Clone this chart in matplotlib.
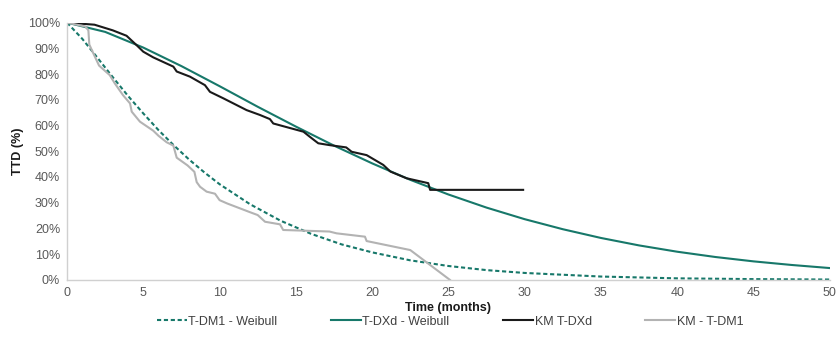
import matplotlib
matplotlib.use("Agg")
import matplotlib.pyplot as plt
from matplotlib.ticker import FuncFormatter

plt.rcParams['font.family'] = ['Liberation Sans', 'DejaVu Sans']

# Weibull fit T-DM1 (dashed)
t_dm1_wb = [0, 1, 2, 3, 4, 5, 6, 7, 8, 9, 10, 12, 14, 16, 18, 20, 22.5, 25, 27.5, 30, 35, 40, 45, 50]
s_dm1_wb = [100, 93.7, 86.3, 78.8, 71.5, 64.7, 58.2, 52.3, 46.8, 41.8, 37.2, 29.4, 23.0, 17.9,
            13.8, 10.7, 7.6, 5.4, 3.8, 2.7, 1.3, 0.6, 0.3, 0.14]

# Weibull fit T-DXd (solid)
t_dxd_wb = [0, 2.5, 5, 7.5, 10, 12.5, 15, 17.5, 20, 22.5, 25, 27.5, 30, 32.5, 35, 37.5, 40,
            42.5, 45, 47.5, 50]
s_dxd_wb = [100, 96.4, 90.3, 83.1, 75.3, 67.3, 59.6, 52.2, 45.3, 38.9, 33.2, 28.1, 23.6,
            19.7, 16.3, 13.4, 10.95, 8.9, 7.2, 5.8, 4.6]

# Kaplan-Meier T-DXd
t_km_dxd = [0, 1.8, 3.0, 3.9, 4.55, 5.0, 5.65, 6.97, 7.19, 8.06, 9.04, 9.37, 10.24, 11.77,
            12.65, 13.3, 13.52, 15.5, 15.9, 16.47, 17.2, 18.3, 18.66, 19.64, 20.73, 21.2,
            22.26, 23.68, 23.8, 29.9]
s_km_dxd = [100, 99.2, 97, 94.9, 91.3, 88.7, 86.5, 82.9, 81, 79, 75.7, 73.1, 70.6, 66,
            64.1, 62.5, 60.8, 57.6, 55.7, 53.1, 52.4, 51.5, 49.8, 48.5, 44.7, 42.1,
            39.5, 37.6, 35, 35]

# Kaplan-Meier T-DM1
t_km_dm1 = [0, 1.2, 1.4, 1.46, 1.65, 2.1, 2.8, 3.13, 3.67, 4.13, 4.24, 4.78, 5.65, 6.0, 6.53,
            6.97, 7.19, 7.9, 8.35, 8.5, 8.72, 9.15, 9.7, 10.0, 10.5, 11.34, 12.0, 12.5, 12.98,
            13.96, 14.17, 17.2, 17.67, 19.53, 19.64, 22.5, 25.1]
s_km_dm1 = [100, 98.5, 97, 91.5, 89, 83.3, 79.6, 76.4, 71.8, 68.6, 65.4, 61.5, 58, 56, 53.5,
            52.2, 47.5, 44.5, 42, 38, 36.2, 34.3, 33.5, 31, 29.7, 27.8, 26.3, 25.2, 22.6,
            21.6, 19.4, 18.8, 18.1, 16.8, 15.1, 11.6, 0]

x_ticks = [0, 5, 10, 15, 20, 25, 30, 35, 40, 45, 50]
y_ticks = [0, 10, 20, 30, 40, 50, 60, 70, 80, 90, 100]

teal = '#17786a'
fig = plt.figure(figsize=(8.4, 3.43), dpi=100)
ax = fig.add_axes([0.0798, 0.184, 0.908, 0.750])

ax.plot(t_dm1_wb, s_dm1_wb, color=teal, lw=1.5, linestyle=(0, (2, 1.3)), label='T-DM1 - Weibull')
ax.plot(t_dxd_wb, s_dxd_wb, color=teal, lw=1.5, label='T-DXd - Weibull')
ax.plot(t_km_dxd, s_km_dxd, color='#1a1a1a', lw=1.5, label='KM T-DXd')
ax.plot(t_km_dm1, s_km_dm1, color='#b3b3b3', lw=1.5, label='KM - T-DM1')

ax.set_xlim(0, 50)
ax.set_ylim(0, 100)
ax.set_xticks(x_ticks)
ax.set_yticks(y_ticks)
ax.yaxis.set_major_formatter(FuncFormatter(lambda v, p: f'{int(v)}%'))
ax.tick_params(length=0, labelsize=9, colors='#595959', pad=5)
for s in ['top', 'right']:
    ax.spines[s].set_visible(False)
for s in ['left', 'bottom']:
    ax.spines[s].set_color('#d0d0d0')
    ax.spines[s].set_linewidth(1.0)

ax.set_xlabel('Time (months)', fontsize=9, fontweight='bold', color='#1a1a1a', labelpad=2)
ax.set_ylabel('TTD (%)', fontsize=9, fontweight='bold', color='#1a1a1a', labelpad=3)

fig.legend(loc='center', bbox_to_anchor=(0.536, 0.062), ncol=4, frameon=False, fontsize=9,
           handlelength=2.4, handletextpad=0.1, columnspacing=4.3, labelcolor='#404040')

fig.savefig('out.png', dpi=100)
